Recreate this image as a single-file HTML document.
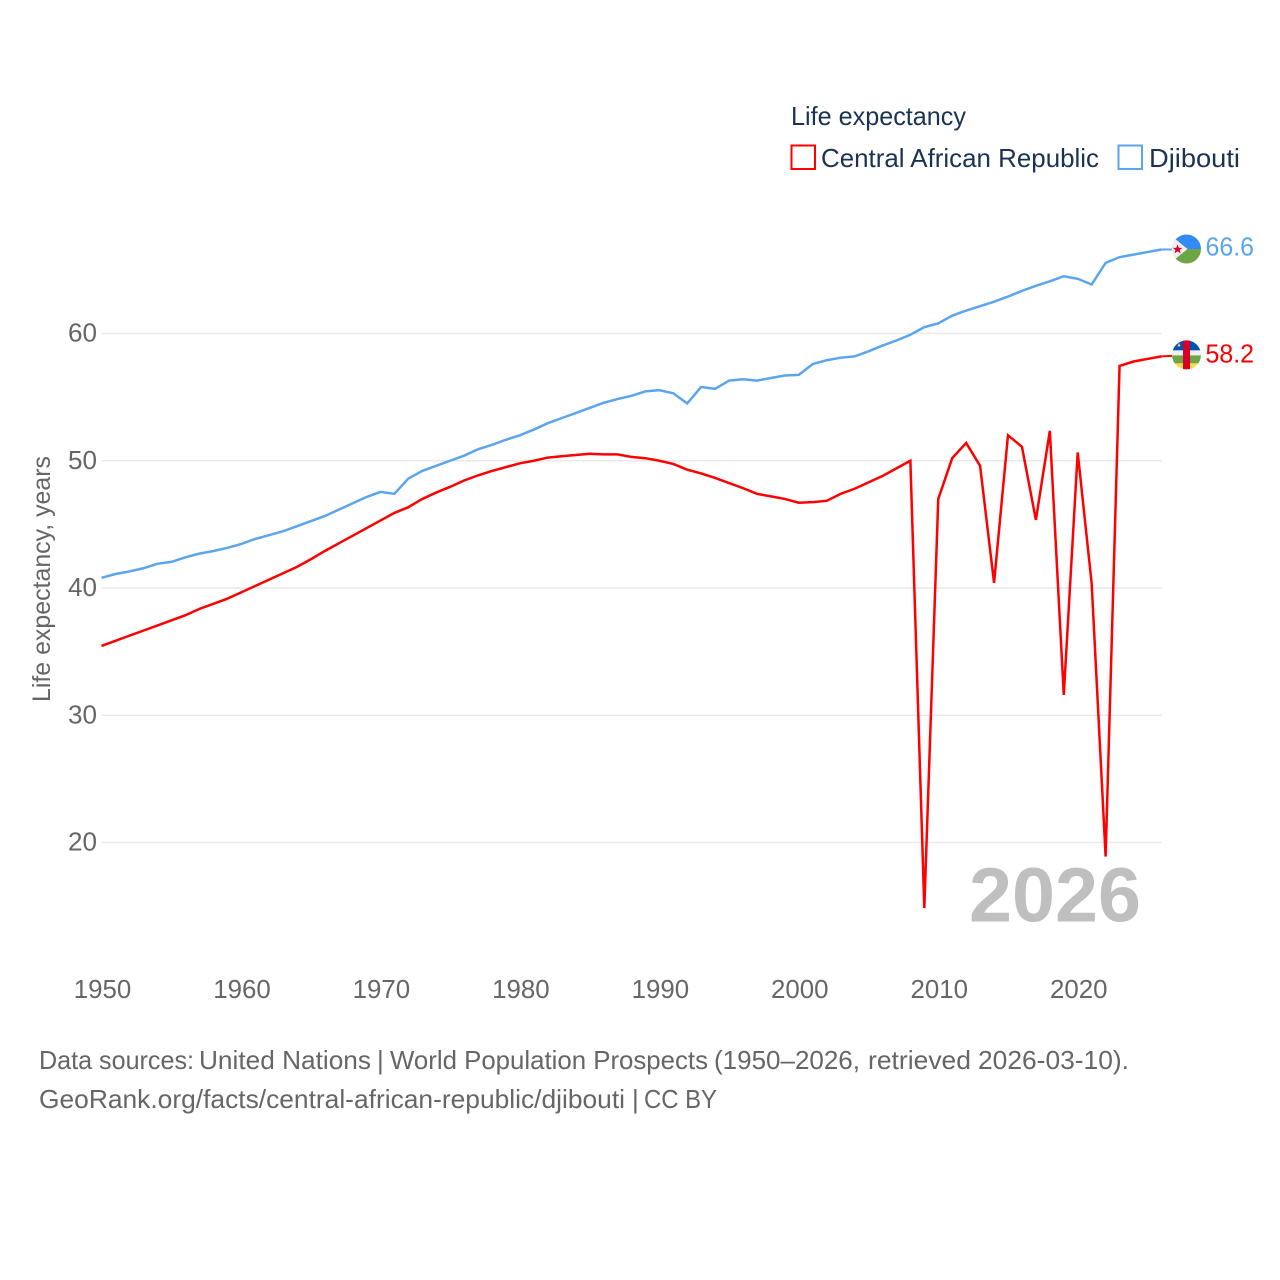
<!DOCTYPE html>
<html lang="en">
<head>
<meta charset="utf-8">
<title>Life expectancy: Central African Republic and Djibouti</title>
<style>
html,body{margin:0;padding:0;background:#fff;}
svg{display:block;}
text{font-family:"Liberation Sans",sans-serif;}
</style>
</head>
<body>
<svg id="chart" xmlns="http://www.w3.org/2000/svg" width="1280" height="1280" viewBox="0 0 1280 1280">
  <rect x="0" y="0" width="1280" height="1280" fill="#ffffff"/>
  <g id="grid"></g>
  <g id="yticks"></g>
  <g id="xticks"></g>
  <text transform="translate(50,579) rotate(-90)" text-anchor="middle" font-size="25" fill="#666666" textLength="246" lengthAdjust="spacingAndGlyphs">Life expectancy, years</text>
  <text x="969" y="921.5" font-size="77" font-weight="700" fill="#bfbfbf" textLength="172" lengthAdjust="spacingAndGlyphs">2026</text>
  <g id="series"></g>

  <g>
    <text x="791" y="125" font-size="26" fill="#1a3353" textLength="175" lengthAdjust="spacingAndGlyphs">Life expectancy</text>
    <g>
      <rect x="791.5" y="145.5" width="23.5" height="23.5" fill="none" stroke="#ff0000" stroke-width="2"/>
      <text x="821" y="167" font-size="26" fill="#1a3353" textLength="278" lengthAdjust="spacingAndGlyphs">Central African Republic</text>
    </g>
    <g>
      <rect x="1118.5" y="145.5" width="23.5" height="23.5" fill="none" stroke="#5ba4ee" stroke-width="2"/>
      <text x="1149" y="167" font-size="26" fill="#1a3353" textLength="91" lengthAdjust="spacingAndGlyphs">Djibouti</text>
    </g>
  </g>

  <defs>
    <clipPath id="flag-clip"><circle cx="0" cy="0" r="14.5"/></clipPath>
  </defs>
  <g id="flag-dj">
    <g clip-path="url(#flag-clip)">
      <rect x="-15" y="-15" width="30" height="15" fill="#338af3"/>
      <rect x="-15" y="0" width="30" height="15" fill="#6da544"/>
      <polygon points="-15,-13 1,0 -15,13" fill="#f0f0f0"/>
      <polygon points="-9,-4.5 -7.6,-1.2 -4,-1.2 -6.9,1 -5.8,4.4 -9,2.3 -12,4.4 -11,1 -13.8,-1.2 -10.3,-1.2" fill="#d80027"/>
    </g>
  </g>
  <g id="flag-cf">
    <g clip-path="url(#flag-clip)">
      <rect x="-15" y="-15" width="30" height="10.5" fill="#0052b4"/>
      <rect x="-15" y="-4.5" width="30" height="5" fill="#f0f0f0"/>
      <rect x="-15" y="0.5" width="30" height="8" fill="#6da544"/>
      <rect x="-15" y="8.5" width="30" height="7" fill="#ffda44"/>
      <rect x="-3.5" y="-15" width="7" height="30" fill="#d80027"/>
      <polygon points="-7.5,-12 -6,-8.5 -9,-8.5" fill="#ffda44"/>
    </g>
  </g>
  <g id="endlabels"></g>

  <g>
    <text y="1069" font-size="26" fill="#666666"><tspan x="39" textLength="155" lengthAdjust="spacingAndGlyphs">Data sources:</tspan> <tspan x="199" textLength="172" lengthAdjust="spacingAndGlyphs">United Nations</tspan> <tspan x="377">|</tspan> <tspan x="390" textLength="318" lengthAdjust="spacingAndGlyphs">World Population Prospects</tspan> <tspan x="714" textLength="146" lengthAdjust="spacingAndGlyphs">(1950–2026,</tspan> <tspan x="868" textLength="103" lengthAdjust="spacingAndGlyphs">retrieved</tspan> <tspan x="978" textLength="151" lengthAdjust="spacingAndGlyphs">2026-03-10).</tspan></text>
    <text y="1108" font-size="26" fill="#666666"><tspan x="39" textLength="586" lengthAdjust="spacingAndGlyphs">GeoRank.org/facts/central-african-republic/djibouti</tspan> <tspan x="632">|</tspan> <tspan x="644" textLength="73" lengthAdjust="spacingAndGlyphs">CC BY</tspan></text>
  </g>
</svg>
<script>
const years = [];
for (let yr = 1950; yr <= 2026; yr++) years.push(yr);

const yTickValues = [20, 30, 40, 50, 60];
const xTickValues = [1950, 1960, 1970, 1980, 1990, 2000, 2010, 2020];

const djiboutiValues = [
  40.8, 41.1, 41.3, 41.55, 41.9, 42.05, 42.4, 42.7, 42.9, 43.15,
  43.45, 43.85, 44.15, 44.45, 44.85, 45.25, 45.65, 46.15, 46.65, 47.15,
  47.55, 47.4, 48.6, 49.2, 49.6, 50.0, 50.4, 50.9, 51.25, 51.65,
  52.0, 52.45, 52.95, 53.35, 53.75, 54.15, 54.55, 54.85, 55.1, 55.45,
  55.55, 55.3, 54.5, 55.8, 55.65, 56.3, 56.4, 56.3, 56.5, 56.7,
  56.75, 57.6, 57.9, 58.1, 58.2, 58.6, 59.05, 59.45, 59.9, 60.5,
  60.8, 61.4, 61.8, 62.15, 62.5, 62.9, 63.35, 63.75, 64.1, 64.5,
  64.3, 63.85, 65.55, 66.0, 66.2, 66.4, 66.6
];

const carValues = [
  35.45, 35.85, 36.25, 36.65, 37.05, 37.45, 37.85, 38.35, 38.75, 39.15,
  39.65, 40.15, 40.65, 41.15, 41.65, 42.25, 42.9, 43.5, 44.1, 44.7,
  45.3, 45.9, 46.35, 47.0, 47.5, 47.95, 48.45, 48.85, 49.2, 49.5,
  49.8, 50.0, 50.25, 50.35, 50.45, 50.55, 50.5, 50.5, 50.3, 50.2,
  50.0, 49.75, 49.3, 49.0, 48.65, 48.25, 47.85, 47.4, 47.2, 47.0,
  46.7, 46.75, 46.85, 47.4, 47.8, 48.3, 48.8, 49.4, 50.0, 14.85,
  47.0, 50.2, 51.4, 49.6, 40.4, 52.0, 51.1, 45.35, 52.35, 31.6,
  50.65, 40.35, 18.9, 57.45, 57.8, 58.0, 58.2
];

const SVG_NS = 'http://www.w3.org/2000/svg';

function xScale(year) {
  return 101.5 + (year - 1950) * (1161.4 - 101.5) / 76;
}
function yScale(value) {
  return 842.5 - (value - 20) * 12.725;
}
function make(tag, attrs, parent, text) {
  const el = document.createElementNS(SVG_NS, tag);
  Object.keys(attrs).forEach(function (k) { el.setAttribute(k, attrs[k]); });
  if (text !== undefined) el.textContent = text;
  parent.appendChild(el);
  return el;
}

const gridG = document.getElementById('grid');
const yG = document.getElementById('yticks');
yTickValues.forEach(function (v) {
  const line = make('line', { x1: 101.7, x2: 1161.6, y1: yScale(v), y2: yScale(v), stroke: '#e9e9e9', 'stroke-width': 1.5 }, gridG);
  
  
  const label = make('text', { x: 97, y: yScale(v) + 8, 'text-anchor': 'end', 'font-size': 25.5, fill: '#666666', textLength: 29, lengthAdjust: 'spacingAndGlyphs' }, yG, String(v));
  
  
});

const xG = document.getElementById('xticks');
xTickValues.forEach(function (yr) {
  const label = make('text', { x: xScale(yr) + 1, y: 998, 'text-anchor': 'middle', 'font-size': 25.5, fill: '#666666', textLength: 57.5, lengthAdjust: 'spacingAndGlyphs' }, xG, String(yr));
  
  
});

function pathFor(values) {
  return values.map(function (v, i) {
    return (i === 0 ? 'M' : 'L') + xScale(years[i]).toFixed(2) + ' ' + yScale(v).toFixed(2);
  }).join(' ');
}

const seriesG = document.getElementById('series');
const djLine = make('path', { d: pathFor(djiboutiValues), fill: 'none', stroke: '#5ba4ee', 'stroke-width': 2.5, 'stroke-linejoin': 'miter' }, seriesG);


const carLine = make('path', { d: pathFor(carValues), fill: 'none', stroke: '#ff0000', 'stroke-width': 2.5, 'stroke-linejoin': 'miter' }, seriesG);



const lastX = xScale(years[years.length - 1]);
const djLast = djiboutiValues[djiboutiValues.length - 1];
const carLast = carValues[carValues.length - 1];

const djConn = make('line', { x1: lastX, x2: 1172, y1: yScale(djLast), y2: yScale(djLast), stroke: '#5ba4ee', 'stroke-width': 2 }, seriesG);


const carConn = make('line', { x1: lastX, x2: 1172, y1: yScale(carLast), y2: yScale(carLast) - 0.5, stroke: '#ff0000', 'stroke-width': 2 }, seriesG);



document.getElementById('flag-dj').setAttribute('transform', 'translate(1186.5,' + (yScale(djLast) - 0.5) + ')');
document.getElementById('flag-cf').setAttribute('transform', 'translate(1186.5,' + (yScale(carLast) - 1.5) + ')');

const endG = document.getElementById('endlabels');
const djLabel = make('text', { x: 1205.5, y: yScale(djLast) + 6, 'font-size': 25.5, fill: '#5ba4ee', textLength: 48.5, lengthAdjust: 'spacingAndGlyphs' }, endG, djLast.toFixed(1));


const carLabel = make('text', { x: 1205.5, y: yScale(carLast) + 6, 'font-size': 25.5, fill: '#ff0000', textLength: 48.5, lengthAdjust: 'spacingAndGlyphs' }, endG, carLast.toFixed(1));


</script>
</body>
</html>
